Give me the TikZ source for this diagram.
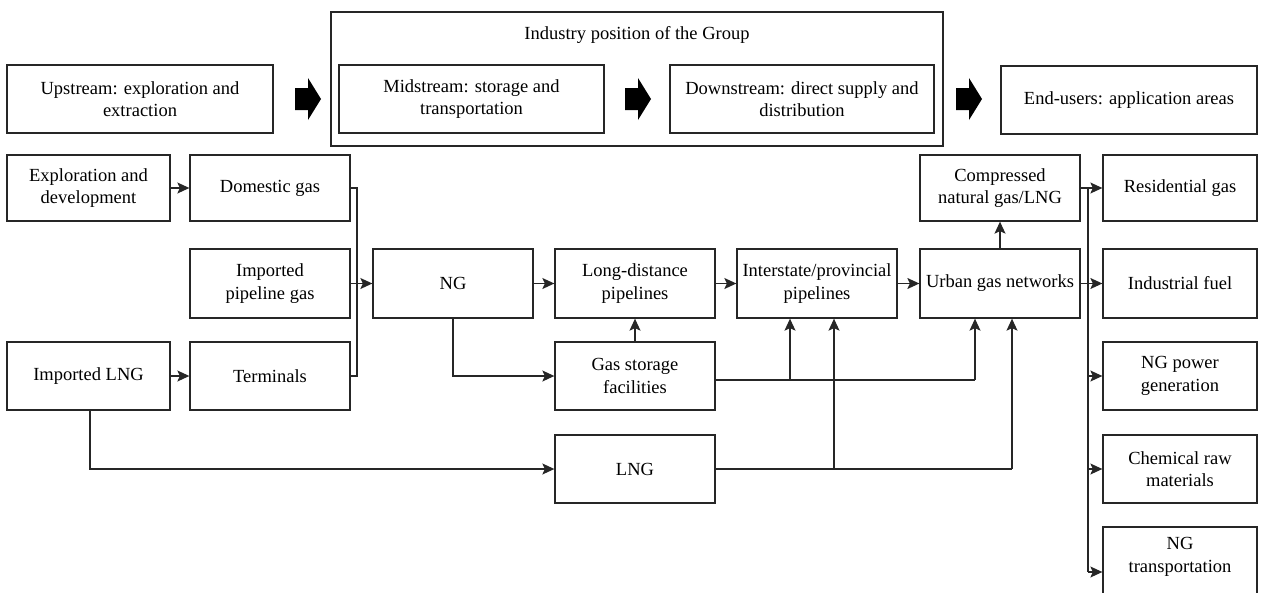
\documentclass[tikz,border=0pt]{standalone}
\usepackage{fontspec}
\setmainfont{Liberation Serif}
\usetikzlibrary{arrows.meta,calc}
\begin{document}
\begin{tikzpicture}[x=1pt,y=-1pt,
  box/.style={draw=black!85, line width=1.3pt, inner sep=0pt, align=center,
    font=\fontsize{18.5}{22.5}\selectfont},
  txt/.style={inner sep=0pt, align=center, font=\fontsize{18.5}{22.5}\selectfont},
  std/.style={minimum width=160pt, minimum height=68pt},
  rgt/.style={minimum width=154pt, minimum height=68pt},
  conn/.style={draw=black!85, line width=1.3pt},
  arr/.style={conn, -{Stealth[length=12pt,width=11pt,inset=2.5pt]}},
  blk/.style={fill=black}]
\useasboundingbox (0,0) rectangle (1264,592);

% top row
\node[box, minimum width=612pt, minimum height=134pt] (grp) at (637,79) {};
\node[txt] (grpt) at (637,35) {Industry position of the Group};
\node[box, minimum width=266pt, minimum height=68pt] (up) at (140,99) {Upstream: exploration and\\extraction};
\node[box, minimum width=265pt, minimum height=68pt] (mid) at (471.5,99) {Midstream: storage and\\transportation};
\node[box, minimum width=264pt, minimum height=68pt] (down) at (802,99) {Downstream: direct supply and\\distribution};
\node[box, minimum width=256pt, minimum height=68pt] (end) at (1129,100) {End-users: application areas};
\foreach \x in {295,625,956}{
  \fill[blk] (\x,88) -- (\x+13,88) -- (\x+13,78) -- (\x+26,99) -- (\x+13,120) -- (\x+13,110) -- (\x,110) -- cycle;
}

% row 1
\node[box, minimum width=163pt, minimum height=66pt] (expl) at (88.5,188) {Exploration and\\development};
\node[box, minimum width=160pt, minimum height=66pt] (dom) at (270,188) {Domestic gas};
\node[box, minimum width=160pt, minimum height=66pt] (cng) at (1000,188) {Compressed\\natural gas/LNG};
\node[box, rgt, minimum height=66pt] (res) at (1180,188) {Residential gas};

% row 2
\node[box, std, minimum height=69pt] (ipg) at (270,283.5) {Imported\\pipeline gas};
\node[box, std, minimum height=69pt] (ng) at (453,283.5) {NG};
\node[box, std, minimum height=69pt] (ldp) at (635,283.5) {Long-distance\\pipelines};
\node[box, std, minimum height=69pt] (isp) at (817,283.5) {Interstate/provincial\\pipelines};
\node[box, std, minimum height=69pt] (ugn) at (1000,283.5) {Urban gas networks};
\node[box, rgt, minimum height=69pt] (ind) at (1180,283.5) {Industrial fuel};

% row 3
\node[box, minimum width=163pt, minimum height=68pt] (ilng) at (88.5,376) {Imported LNG};
\node[box, std] (term) at (270,376) {Terminals};
\node[box, std] (gsf) at (635,376) {Gas storage\\facilities};
\node[box, rgt] (pow) at (1180,376) {NG power\\generation};

% row 4
\node[box, std] (lng) at (635,469) {LNG};
\node[box, rgt] (chem) at (1180,469) {Chemical raw\\materials};

% row 5
\node[box, rgt, minimum height=90pt] (ngt) at (1180,572) {};
\node[txt] (ngtt) at (1180,557) {NG\\transportation};

% connectors left
\draw[arr] (expl.east) -- (dom.west);
\draw[arr] (ilng.east) -- (term.west);
\coordinate (lbus) at (357,0);
\draw[conn] (dom.east) -- (dom.east -| lbus) -- (term.east -| lbus) -- (term.east);
\draw[arr] (ipg.east) -- (ng.west);

% main chain
\draw[arr] (ng.east) -- (ldp.west);
\draw[arr] (ldp.east) -- (isp.west);
\draw[arr] (isp.east) -- (ugn.west);
\draw[arr] (ugn.north) -- (cng.south);

% NG to storage
\draw[arr] (ng.south) |- (gsf.west);
\draw[arr] (gsf.north) -- (ldp.south);

% storage outputs
\coordinate (gsfo) at (715,380);
\coordinate (s1) at (790,380);
\coordinate (s2) at (975,380);
\draw[conn] (gsfo) -- (s2);
\draw[arr] (s1) -- (s1 |- isp.south);
\draw[arr] (s2) -- (s2 |- ugn.south);

% imported LNG to LNG
\coordinate (il) at (90,0);
\draw[arr] (il |- ilng.south) -- (il |- lng.west) -- (lng.west);
\coordinate (l1) at (834,469);
\coordinate (l2) at (1012,469);
\draw[conn] (lng.east) -- (l2);
\draw[arr] (l1) -- (l1 |- isp.south);
\draw[arr] (l2) -- (l2 |- ugn.south);

% right bus
\coordinate (rbus) at (1088,0);
\draw[arr] (cng.east) -- (res.west);
\draw[arr] (ugn.east) -- (ind.west);
\draw[conn] (rbus |- res.west) -- (rbus |- ngt.west);
\draw[arr] (rbus |- pow.west) -- (pow.west);
\draw[arr] (rbus |- chem.west) -- (chem.west);
\draw[arr] (rbus |- ngt.west) -- (ngt.west);
\end{tikzpicture}
\end{document}
